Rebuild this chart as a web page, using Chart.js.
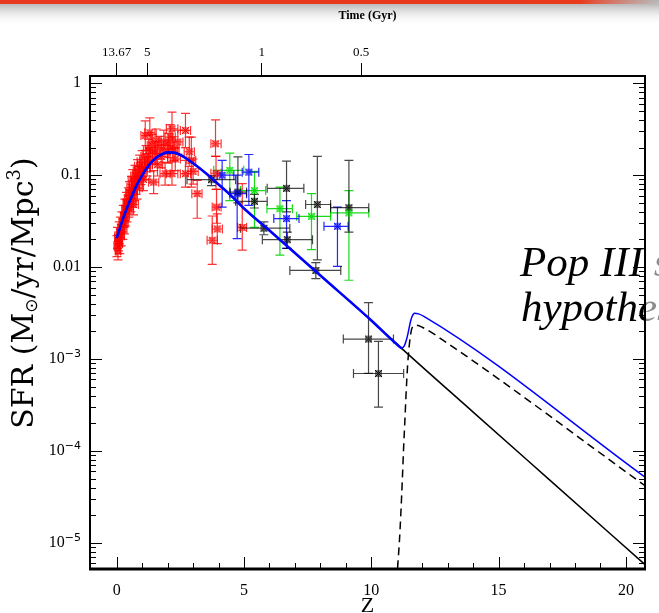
<!DOCTYPE html>
<html>
<head>
<meta charset="utf-8">
<script src="https://cdn.jsdelivr.net/npm/chart.js@4.4.1/dist/chart.umd.min.js"></script>
<style>
  html, body { margin: 0; padding: 0; background: #fff; }
  canvas { display: block; }
</style>
</head>
<body>
<canvas id="sfrChart" width="659" height="613"></canvas>
<script>
// axis ranges and ticks
const zMin = -1.05, zMax = 20.75;
const sfrMin = 5.2e-6, sfrMax = 1.2;
const zTicks = [0, 5, 10, 15, 20];
const sfrTicks = [1, 0.1, 0.01, 1e-3, 1e-4, 1e-5];
const sfrTickBase = ['1', '0.1', '0.01', '10', '10', '10'];
const sfrTickExp = ['', '', '', '−3', '−4', '−5'];
const timeTickZ = [0, 1.2, 5.7, 9.6];
const timeTickLabels = ['13.67', '5', '1', '0.5'];

// Pop II/I fit
const modelZ = [0, 0.25, 0.5, 0.75, 1, 1.25, 1.5, 1.75, 2, 2.25, 2.5, 3, 3.5, 4, 4.5, 5, 6, 8, 10, 11.2, 14, 17, 20.75];
const modelSfr = [0.0207, 0.0339, 0.0513, 0.0741, 0.100, 0.127, 0.151, 0.168, 0.177, 0.176, 0.166, 0.135, 0.105,
                  0.0794, 0.0596, 0.0435, 0.0250, 0.0081, 0.00263, 0.0013, 2.65e-4, 4.85e-5, 5.81e-6];

// Pop II/I + Pop III
const totalZ = [0, 0.25, 0.5, 0.75, 1, 1.25, 1.5, 1.75, 2, 2.25, 2.5, 3, 3.5, 4, 4.5, 5, 6, 8, 10, 11,
                11.2, 11.3, 11.38, 11.45, 11.53, 11.6, 11.7, 11.85, 12.08, 20.75];
const totalSfr = [0.0207, 0.0339, 0.0513, 0.0741, 0.100, 0.127, 0.151, 0.168, 0.177, 0.176, 0.166, 0.135, 0.105,
                  0.0794, 0.0596, 0.0435, 0.0250, 0.0081, 0.00263, 0.00145,
                  0.00132, 0.00140, 0.00162, 0.00195, 0.0025, 0.0029, 0.00315, 0.0031, 0.0029, 5.2e-5];

// Pop III only
const popZ = [10.95, 11.03, 11.1, 11.16, 11.22, 11.27, 11.32, 11.36, 11.43, 11.53, 11.62, 11.75, 12.0, 13.0, 20.75];
const popSfr = [2e-6, 5.2e-6, 1.0e-5, 2.1e-5, 5e-5, 1.11e-4, 2.2e-4, 3.9e-4, 8.9e-4, 1.74e-3, 2.24e-3, 2.34e-3,
                2.22e-3, 1.48e-3, 4.19e-5];

// measurements: [z, zLo, zHi, sfr, sfrLo, sfrHi]
const redObs = [
  [0.01, -0.1, 0.12, 0.017, 0.013, 0.022], [0.03, -0.08, 0.15, 0.021, 0.016, 0.027],
  [0.05, -0.05, 0.15, 0.015, 0.012, 0.019], [0.07, -0.05, 0.2, 0.019, 0.015, 0.024],
  [0.10, 0.0, 0.2, 0.024, 0.018, 0.031], [0.12, 0.02, 0.22, 0.018, 0.014, 0.023],
  [0.15, 0.05, 0.3, 0.027, 0.021, 0.035], [0.18, 0.05, 0.3, 0.022, 0.017, 0.029],
  [0.20, 0.1, 0.35, 0.031, 0.024, 0.040], [0.24, 0.1, 0.4, 0.026, 0.020, 0.034],
  [0.26, 0.15, 0.4, 0.036, 0.027, 0.047], [0.30, 0.2, 0.45, 0.030, 0.023, 0.039],
  [0.32, 0.2, 0.5, 0.042, 0.032, 0.055], [0.35, 0.2, 0.5, 0.036, 0.028, 0.047],
  [0.38, 0.25, 0.55, 0.050, 0.038, 0.065], [0.40, 0.25, 0.6, 0.041, 0.031, 0.054],
  [0.45, 0.3, 0.6, 0.056, 0.042, 0.073], [0.48, 0.3, 0.65, 0.046, 0.035, 0.060],
  [0.50, 0.35, 0.7, 0.065, 0.049, 0.085], [0.55, 0.4, 0.75, 0.052, 0.040, 0.068],
  [0.58, 0.4, 0.75, 0.074, 0.056, 0.097], [0.60, 0.45, 0.8, 0.060, 0.045, 0.079],
  [0.63, 0.45, 0.8, 0.088, 0.066, 0.115], [0.66, 0.5, 0.85, 0.048, 0.037, 0.063],
  [0.70, 0.5, 0.9, 0.070, 0.053, 0.092], [0.72, 0.55, 0.95, 0.098, 0.074, 0.128],
  [0.76, 0.6, 1.0, 0.082, 0.062, 0.108], [0.80, 0.6, 1.0, 0.073, 0.055, 0.096],
  [0.82, 0.65, 1.05, 0.112, 0.084, 0.148], [0.87, 0.7, 1.05, 0.094, 0.071, 0.124],
  [0.90, 0.7, 1.1, 0.125, 0.094, 0.165], [0.95, 0.75, 1.15, 0.105, 0.079, 0.138],
  [1.00, 0.8, 1.2, 0.140, 0.105, 0.185], [1.05, 0.85, 1.3, 0.090, 0.068, 0.118],
  [1.10, 0.9, 1.3, 0.118, 0.089, 0.155], [1.12, 0.95, 1.35, 0.270, 0.186, 0.390],
  [1.15, 0.95, 1.4, 0.160, 0.120, 0.210], [1.20, 1.0, 1.4, 0.130, 0.098, 0.172],
  [1.25, 1.05, 1.5, 0.185, 0.139, 0.245], [1.30, 1.1, 1.5, 0.290, 0.200, 0.420],
  [1.32, 1.1, 1.55, 0.145, 0.109, 0.192], [1.40, 1.2, 1.6, 0.210, 0.158, 0.278],
  [1.45, 1.25, 1.65, 0.084, 0.063, 0.112], [1.50, 1.3, 1.7, 0.175, 0.132, 0.232],
  [1.55, 1.35, 1.75, 0.240, 0.180, 0.318], [1.60, 1.4, 1.8, 0.130, 0.098, 0.172],
  [1.70, 1.5, 1.9, 0.200, 0.150, 0.265], [1.75, 1.55, 2.0, 0.160, 0.120, 0.212],
  [1.85, 1.65, 2.05, 0.230, 0.170, 0.310], [1.90, 1.7, 2.1, 0.104, 0.078, 0.138],
  [2.00, 1.8, 2.2, 0.180, 0.135, 0.240], [2.05, 1.85, 2.25, 0.210, 0.155, 0.285],
  [2.10, 1.9, 2.3, 0.260, 0.190, 0.355], [2.17, 1.95, 2.4, 0.320, 0.230, 0.485],
  [2.17, 1.95, 2.4, 0.104, 0.078, 0.140], [2.25, 2.05, 2.45, 0.195, 0.145, 0.262],
  [2.30, 2.1, 2.5, 0.150, 0.112, 0.200], [2.40, 2.2, 2.6, 0.230, 0.170, 0.310],
  [2.70, 2.5, 2.9, 0.307, 0.200, 0.470], [2.70, 2.5, 2.9, 0.104, 0.074, 0.145],
  [2.85, 2.65, 3.05, 0.180, 0.125, 0.260], [2.93, 2.75, 3.1, 0.145, 0.074, 0.260],
  [3.00, 2.8, 3.2, 0.110, 0.080, 0.150], [3.16, 2.95, 3.35, 0.063, 0.034, 0.088],
  [3.75, 3.55, 3.95, 0.0196, 0.0107, 0.036], [3.88, 3.7, 4.1, 0.220, 0.160, 0.400],
  [3.90, 3.7, 4.1, 0.105, 0.070, 0.160], [3.92, 3.75, 4.1, 0.045, 0.030, 0.070],
  [3.95, 3.75, 4.15, 0.026, 0.018, 0.038], [4.93, 4.75, 5.1, 0.027, 0.0153, 0.081]
];
const greenObs = [
  [4.44, 3.81, 4.99, 0.113, 0.053, 0.174],
  [5.41, 4.86, 5.85, 0.068, 0.027, 0.110],
  [6.41, 5.90, 6.90, 0.0432, 0.0135, 0.074],
  [7.65, 7.07, 8.40, 0.0357, 0.0155, 0.063],
  [9.12, 8.40, 9.90, 0.0389, 0.0072, 0.068]
];
const blueObs = [
  [4.14, 3.95, 4.60, 0.100, 0.045, 0.145],
  [5.19, 4.93, 5.58, 0.108, 0.047, 0.168],
  [4.73, 4.45, 5.10, 0.063, 0.0204, 0.100],
  [6.67, 6.17, 7.16, 0.0337, 0.016, 0.053],
  [8.67, 8.14, 9.09, 0.0278, 0.0102, 0.045]
];
const blackObs = [
  [3.72, 2.76, 4.67, 0.0895, 0.077, 0.099],
  [4.76, 4.45, 5.10, 0.0655, 0.050, 0.158],
  [5.41, 4.67, 5.91, 0.052, 0.044, 0.062],
  [6.67, 5.91, 7.35, 0.072, 0.040, 0.142],
  [5.78, 4.86, 6.80, 0.0265, 0.0225, 0.031],
  [6.70, 5.72, 7.69, 0.0199, 0.016, 0.024],
  [7.88, 7.42, 8.40, 0.048, 0.012, 0.160],
  [7.82, 6.80, 8.80, 0.0092, 0.0075, 0.0112],
  [9.12, 8.40, 9.90, 0.0443, 0.024, 0.145],
  [9.89, 8.90, 10.87, 0.00165, 0.00070, 0.0041],
  [10.28, 9.30, 11.27, 0.000696, 0.00030, 0.00156]
];

const surveys = [
  { rows: redObs, color: '#ff0000', bar: 'rgba(255,0,0,0.8)' },
  { rows: greenObs, color: '#00dd00', bar: 'rgba(0,215,0,0.9)' },
  { rows: blueObs, color: '#0000ff', bar: 'rgba(0,0,255,0.85)' },
  { rows: blackObs, color: '#000000', bar: 'rgba(0,0,0,0.72)' }
];

// boxed-cross symbol
function markerImage(color) {
  const c = document.createElement('canvas');
  c.width = 9; c.height = 9;
  const g = c.getContext('2d');
  g.strokeStyle = color;
  g.lineWidth = 1;
  g.strokeRect(2, 2, 5, 5);
  g.beginPath();
  g.moveTo(1, 1); g.lineTo(8, 8);
  g.moveTo(8, 1); g.lineTo(1, 8);
  g.stroke();
  return c;
}

const toPoints = (xs, ys) => xs.map((x, i) => ({ x: x, y: ys[i] }));

const headerBar = {
  id: 'headerBar',
  beforeDraw(chart) {
    const ctx = chart.ctx;
    ctx.save();
    ctx.fillStyle = '#fff';
    ctx.fillRect(0, 0, chart.width, chart.height);
    const shade = ctx.createLinearGradient(0, 0, 0, 26);
    shade.addColorStop(0, 'rgba(140,140,140,0.85)');
    shade.addColorStop(1, 'rgba(255,255,255,0)');
    ctx.fillStyle = shade;
    ctx.fillRect(0, 0, chart.width, 26);
    const red = ctx.createLinearGradient(0, 0, chart.width, 0);
    red.addColorStop(0, '#e8381f');
    red.addColorStop(0.88, '#ea3a1c');
    red.addColorStop(1, 'rgba(190,190,190,0.7)');
    ctx.fillStyle = red;
    ctx.fillRect(0, 0, chart.width, 4);
    ctx.restore();
  }
};

const errorBars = {
  id: 'errorBars',
  beforeDatasetsDraw(chart) {
    const { ctx, chartArea: a, scales: { x, y } } = chart;
    const cap = 4.5;
    ctx.save();
    ctx.beginPath();
    ctx.rect(a.left, a.top, a.right - a.left, a.bottom - a.top);
    ctx.clip();
    ctx.lineWidth = 1.2;
    surveys.forEach(s => {
      ctx.strokeStyle = s.bar;
      s.rows.forEach(r => {
        const px = x.getPixelForValue(r[0]);
        const py = y.getPixelForValue(r[3]);
        const x0 = x.getPixelForValue(r[1]);
        const x1 = x.getPixelForValue(r[2]);
        const y0 = y.getPixelForValue(r[4]);
        const y1 = y.getPixelForValue(r[5]);
        ctx.beginPath();
        ctx.moveTo(x0, py); ctx.lineTo(x1, py);
        ctx.moveTo(x0, py - cap); ctx.lineTo(x0, py + cap);
        ctx.moveTo(x1, py - cap); ctx.lineTo(x1, py + cap);
        ctx.moveTo(px, y0); ctx.lineTo(px, y1);
        ctx.moveTo(px - cap, y0); ctx.lineTo(px + cap, y0);
        ctx.moveTo(px - cap, y1); ctx.lineTo(px + cap, y1);
        ctx.stroke();
      });
    });
    ctx.restore();
  }
};

// draws pieces of text one after another, centred on (0,0)
function drawRich(ctx, parts) {
  let total = 0;
  parts.forEach(p => { ctx.font = p.font; p.w = ctx.measureText(p.t).width; total += p.w; });
  let cx = -total / 2;
  parts.forEach(p => { ctx.font = p.font; ctx.fillText(p.t, cx, p.dy); cx += p.w; });
}

const frameAndLabels = {
  id: 'frameAndLabels',
  afterDatasetsDraw(chart) {
    const { ctx, chartArea: a, scales: { x, y } } = chart;
    ctx.save();

    // slide caption
    ctx.font = 'italic 43px "Liberation Serif"';
    ctx.fillStyle = '#000';
    ctx.textBaseline = 'alphabetic';
    ctx.textAlign = 'left';
    ctx.save();
    ctx.beginPath(); ctx.rect(0, 0, a.right, chart.height); ctx.clip();
    ctx.fillText('Pop III stars', 520, 276);
    ctx.fillText('hypothesis', 521, 321);
    ctx.restore();
    ctx.save();
    ctx.beginPath(); ctx.rect(a.right, 0, chart.width - a.right, chart.height); ctx.clip();
    ctx.globalAlpha = 0.45;
    ctx.fillText('Pop III stars', 520, 276);
    ctx.fillText('hypothesis', 521, 321);
    ctx.restore();

    // inner tick marks
    ctx.strokeStyle = '#000';
    ctx.lineWidth = 1;
    ctx.beginPath();
    for (let z = 0; z <= 20; z++) {
      const px = Math.round(x.getPixelForValue(z)) + 0.5;
      const len = z % 5 === 0 ? 12 : 6;
      ctx.moveTo(px, a.bottom); ctx.lineTo(px, a.bottom - len);
    }
    for (let d = -6; d <= 0; d++) {
      for (let m = 1; m <= 9; m++) {
        const v = m * Math.pow(10, d);
        if (v < sfrMin || v > sfrMax) continue;
        const py = Math.round(y.getPixelForValue(v)) + 0.5;
        const len = m === 1 ? 12 : 6;
        ctx.moveTo(a.left, py); ctx.lineTo(a.left + len, py);
        ctx.moveTo(a.right, py); ctx.lineTo(a.right - len, py);
      }
    }
    ctx.stroke();

    // frame
    ctx.lineWidth = 2;
    ctx.strokeRect(a.left, a.top, a.right - a.left, a.bottom - a.top);
    ctx.lineWidth = 3;
    ctx.beginPath(); ctx.moveTo(a.left - 1, a.bottom); ctx.lineTo(a.right + 1, a.bottom); ctx.stroke();

    // log tick labels
    ctx.fillStyle = '#000';
    ctx.textBaseline = 'middle';
    sfrTicks.forEach((v, i) => {
      const py = y.getPixelForValue(v);
      const right = 81;
      ctx.font = '16px "Liberation Serif"';
      const wb = ctx.measureText(sfrTickBase[i]).width;
      ctx.font = '11px "DejaVu Sans"';
      const we = sfrTickExp[i] ? ctx.measureText(sfrTickExp[i]).width : 0;
      ctx.textAlign = 'left';
      ctx.font = '16px "Liberation Serif"';
      ctx.fillText(sfrTickBase[i], right - wb - we, py);
      if (sfrTickExp[i]) {
        ctx.font = '11px "DejaVu Sans"';
        ctx.fillText(sfrTickExp[i], right - we, py - 5);
      }
    });

    // x title
    ctx.textAlign = 'center';
    ctx.textBaseline = 'alphabetic';
    ctx.font = '22px "Liberation Serif"';
    ctx.fillText('Z', (a.left + a.right) / 2, 612);

    // y title
    ctx.save();
    ctx.translate(25, 293);
    ctx.rotate(-Math.PI / 2);
    ctx.textAlign = 'left';
    ctx.textBaseline = 'middle';
    const big = '30px "DejaVu Serif"';
    drawRich(ctx, [
      { t: 'SFR (M', font: big, dy: 0 },
      { t: '⊙', font: '17px "DejaVu Sans"', dy: 8 },
      { t: '/yr/Mpc', font: big, dy: 0 },
      { t: '3', font: '18px "DejaVu Serif"', dy: -10 },
      { t: ')', font: big, dy: 0 }
    ]);
    ctx.restore();

    ctx.restore();
  }
};

new Chart(document.getElementById('sfrChart'), {
  type: 'scatter',
  data: {
    datasets: [
      {
        data: toPoints(totalZ, totalSfr), showLine: true, pointRadius: 0,
        borderColor: '#0000ff', cubicInterpolationMode: 'monotone',
        segment: { borderWidth: c => (c.p1.parsed.x <= 11.2 ? 2.6 : 1.5) },
        order: 0
      },
      {
        data: toPoints(popZ, popSfr), showLine: true, pointRadius: 0,
        borderColor: '#000', borderWidth: 1.5, borderDash: [8, 5], cubicInterpolationMode: 'monotone',
        order: 1
      },
      {
        data: toPoints(modelZ, modelSfr), showLine: true, pointRadius: 0,
        borderColor: '#000', borderWidth: 1.5, cubicInterpolationMode: 'monotone',
        order: 2
      },
      ...surveys.map(s => ({
        data: s.rows.map(r => ({ x: r[0], y: r[3] })),
        pointStyle: markerImage(s.color),
        pointRadius: 4,
        order: 3
      }))
    ]
  },
  options: {
    responsive: false,
    animation: false,
    layout: { padding: { left: 0, right: 14, top: 0, bottom: 0 } },
    plugins: { legend: { display: false }, tooltip: { enabled: false } },
    scales: {
      x: {
        type: 'linear', position: 'bottom', min: zMin, max: zMax,
        afterBuildTicks: s => { s.ticks = zTicks.map(v => ({ value: v })); },
        afterFit: s => { s.height = 44; },
        grid: { display: false, drawTicks: false },
        border: { display: false },
        ticks: { color: '#000', padding: 12, maxRotation: 0, autoSkip: false,
                 font: { family: 'Liberation Serif', size: 16 } }
      },
      x2: {
        type: 'linear', position: 'top', min: zMin, max: zMax,
        afterBuildTicks: s => { s.ticks = timeTickZ.map(v => ({ value: v })); },
        afterFit: s => { s.height = 76; },
        grid: { drawOnChartArea: false, drawTicks: true, tickLength: 13, color: '#000', lineWidth: 1 },
        border: { display: false },
        ticks: { color: '#000', padding: 3, maxRotation: 0, autoSkip: false,
                 font: { family: 'Liberation Serif', size: 13 },
                 callback: (v, i) => timeTickLabels[i] },
        title: { display: true, text: 'Time (Gyr)', color: '#000', padding: { top: 9, bottom: 0 },
                 font: { family: 'Liberation Serif', size: 12, weight: 'bold' } }
      },
      y: {
        type: 'logarithmic', min: sfrMin, max: sfrMax,
        afterFit: s => { s.width = 90; },
        grid: { display: false, drawTicks: false },
        border: { display: false },
        ticks: { display: false }
      }
    }
  },
  plugins: [headerBar, errorBars, frameAndLabels]
});
</script>
</body>
</html>
